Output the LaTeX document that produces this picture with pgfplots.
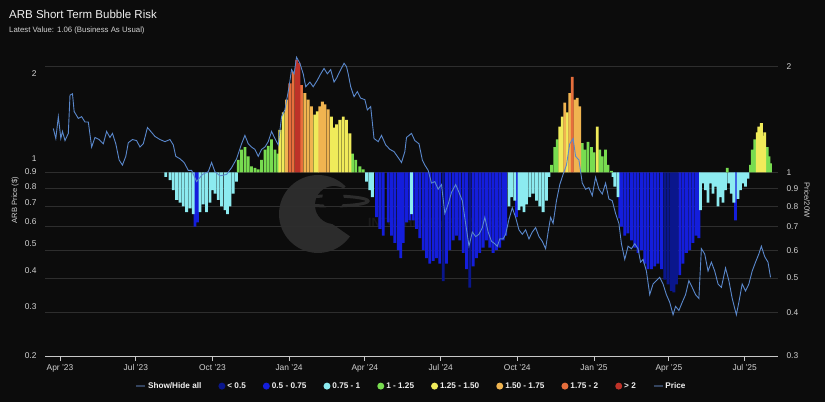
\documentclass[border=0pt]{standalone}
\usepackage{fontspec}
\setmainfont{Liberation Sans}
\usepackage{pgfplots}
\pgfplotsset{compat=1.18}
\usepackage{pgfplotstable}

\definecolor{bgc}{HTML}{0C0C0C}
\definecolor{gridc}{HTML}{2E2E2E}
\definecolor{axisc}{HTML}{C8C8C8}
\definecolor{labc}{HTML}{D2D2D2}
\definecolor{titlec}{HTML}{F0F0F0}
\definecolor{wmc}{HTML}{2C2C2C}
\definecolor{pricec}{HTML}{5A88CC}
\definecolor{legline}{HTML}{34445F}
\definecolor{cA}{HTML}{0A168C}
\definecolor{cB}{HTML}{141EDC}
\definecolor{cC}{HTML}{8CEBF0}
\definecolor{cD}{HTML}{78DC50}
\definecolor{cE}{HTML}{F0EB5A}
\definecolor{cF}{HTML}{F0B450}
\definecolor{cG}{HTML}{E66E3C}
\definecolor{cH}{HTML}{BE3228}

% Price/20W bars, x = days since 1 Apr 2023
\pgfplotstableread{
d v
127 0.97
132 0.95
136 0.89
140 0.835
144 0.82
148 0.80
152 0.77
156 0.79
160 0.76
162 0.70
165 0.72
168 0.77
172 0.81
176 0.77
180 0.82
183 0.89
186 0.87
190 0.835
194 0.80
198 0.78
201 0.76
204 0.80
208 0.87
212 0.94
214 1.085
218 1.16
222 1.18
226 1.11
230 1.04
234 1.03
238 1.02
242 1.085
246 1.16
250 1.19
254 1.24
258 1.16
262 1.13
264 1.32
268 1.48
272 1.61
276 1.79
280 1.93
284 2.09
287 2.05
290 1.77
294 1.68
298 1.61
302 1.54
306 1.46
309 1.49
312 1.54
315 1.59
318 1.56
322 1.51
326 1.44
329 1.34
332 1.37
336 1.41
340 1.44
344 1.41
348 1.29
351 1.13
355 1.085
360 1.04
364 1.02
368 0.94
372 0.89
375 0.85
380 0.745
384 0.69
388 0.66
394 0.72
398 0.66
402 0.63
406 0.60
409 0.57
412 0.63
416 0.72
420 0.73
422 0.76
424 0.73
428 0.69
432 0.65
436 0.60
440 0.57
444 0.55
448 0.56
452 0.57
456 0.55
460 0.49
464 0.55
468 0.60
472 0.64
476 0.66
480 0.64
484 0.59
488 0.53
492 0.47
496 0.54
500 0.57
504 0.59
508 0.61
512 0.64
516 0.61
520 0.59
524 0.60
528 0.61
532 0.64
535 0.66
539 0.80
542 0.85
546 0.83
548 0.745
551 0.78
554 0.80
557 0.77
560 0.81
564 0.85
568 0.87
572 0.83
576 0.80
580 0.77
584 0.83
587 0.97
590 1.05
594 1.18
597 1.24
600 1.35
603 1.44
606 1.58
609 1.48
612 1.68
615 1.87
618 1.61
621 1.63
624 1.54
627 1.21
630 1.16
634 1.22
638 1.18
641 1.14
645 1.35
648 1.16
651 1.11
655 1.16
658 1.05
662 1.01
664 0.97
666 0.91
670 0.85
672 0.74
674 0.70
678 0.66
682 0.67
686 0.64
690 0.61
694 0.59
698 0.60
702 0.55
706 0.53
710 0.53
714 0.54
718 0.55
722 0.53
726 0.495
730 0.48
734 0.46
737 0.455
740 0.48
744 0.51
748 0.55
752 0.59
756 0.60
760 0.63
764 0.66
767 0.65
769 0.78
772 0.93
775 0.89
778 0.82
781 0.93
784 0.87
787 0.91
790 0.80
793 0.85
796 0.82
799 0.89
801 1.03
803 0.93
806 0.87
809 0.82
811 0.73
814 0.84
817 0.89
820 0.93
823 0.91
826 0.96
829 1.05
831 1.16
834 1.24
837 1.30
839 1.35
842 1.38
844 1.27
846 1.30
849 1.18
851 1.11
853 1.06
}\bars

% ARB price in USD
\pgfplotstableread{
d p
-8 1.28
-5 1.18
-2 1.41
1 1.18
3 1.25
6 1.16
10 1.23
12 1.68
15 1.70
17 1.47
22 1.39
26 1.41
30 1.35
34 1.35
38 1.10
42 1.19
47 1.17
52 1.13
56 1.25
60 1.19
63 1.23
67 1.13
71 0.99
75 0.95
79 1.02
82 1.14
87 1.17
92 1.16
96 1.10
100 1.13
105 1.29
108 1.26
114 1.20
120 1.17
126 1.15
132 1.17
136 1.12
139 1.02
144 1.00
149 0.97
154 0.91
158 0.91
164 0.83
171 0.88
178 0.90
182 0.97
186 0.90
192 0.87
200 0.88
206 0.93
212 1.00
218 1.13
222 1.21
226 1.13
230 1.10
234 1.08
238 1.02
242 1.08
246 1.10
250 1.15
254 1.25
258 1.18
262 1.12
266 1.41
270 1.49
275 1.80
278 2.07
281 2.00
284 2.29
288 2.18
292 2.00
295 1.80
300 1.87
304 1.80
309 1.90
313 2.00
317 2.09
321 2.00
325 2.07
329 1.87
332 1.93
336 2.04
341 2.18
344 2.12
346 2.00
349 1.80
353 1.66
357 1.73
361 1.64
366 1.62
369 1.49
373 1.53
377 1.18
382 1.15
386 1.21
391 1.12
396 1.08
401 1.06
406 1.01
410 0.97
414 1.06
416 1.19
422 1.23
426 1.16
431 1.13
435 0.99
438 0.95
442 0.91
446 0.82
450 0.83
454 0.78
458 0.81
462 0.64
466 0.69
470 0.76
475 0.81
479 0.76
483 0.71
487 0.59
491 0.49
495 0.55
499 0.53
503 0.54
507 0.57
510 0.62
514 0.55
518 0.51
522 0.50
525 0.49
528 0.52
532 0.52
535 0.54
539 0.61
543 0.67
547 0.62
551 0.56
555 0.54
559 0.56
563 0.52
567 0.55
571 0.57
575 0.53
579 0.51
583 0.48
586 0.55
589 0.62
592 0.59
596 0.71
600 0.81
604 0.88
608 0.95
612 1.13
616 1.18
619 1.02
623 0.99
627 0.82
631 0.78
635 0.79
639 0.74
643 0.86
647 0.78
651 0.75
655 0.82
659 0.72
663 0.71
667 0.64
671 0.59
674 0.50
678 0.44
682 0.49
686 0.48
690 0.50
694 0.48
697 0.43
700 0.44
704 0.40
708 0.33
712 0.36
716 0.37
720 0.38
724 0.36
728 0.33
732 0.31
736 0.28
739 0.30
743 0.29
747 0.31
751 0.33
755 0.37
759 0.35
763 0.33
767 0.32
770 0.48
774 0.46
778 0.40
782 0.43
786 0.40
790 0.36
794 0.35
799 0.41
803 0.37
807 0.32
812 0.28
815 0.31
819 0.36
823 0.34
827 0.36
831 0.40
835 0.43
839 0.46
842 0.49
846 0.45
850 0.43
853 0.38
}\price

\tikzset{ylab/.style={font=\fontsize{7.6bp}{9bp}\selectfont, text=labc, anchor=center}}
\pgfplotsset{
  base/.style={
    at={(45bp,46bp)}, anchor=south west,
    width=733bp, height=304bp, scale only axis,
    xmin=-18, xmax=862,
    /pgf/number format/assume math mode=true,
    tick label style={font=\fontsize{8.4bp}{10bp}\selectfont, text=labc},
  },
  bar/.style={ybar, bar width=2.8bp, bar shift=0pt, draw=none, fill=#1,
    legend image code/.code={\fill[#1] (3.5bp,0bp) circle (3.5bp);}},
}

\begin{document}
\begin{tikzpicture}[x=1bp,y=1bp]
\useasboundingbox (0,0) rectangle (825,402);
\fill[bgc] (0,0) rectangle (825,402);

\node[anchor=west, text=titlec, font=\fontsize{11.5bp}{13bp}\selectfont, inner sep=0pt] at (9,388) {ARB Short Term Bubble Risk};
\node[anchor=west, text=labc, font=\fontsize{7.8bp}{9bp}\selectfont, inner sep=0pt] at (9,372) {Latest Value: 1.06 (Business As Usual)};

% watermark
\fill[wmc] (318,188) -- ++(45:39) arc (45:325:39) -- cycle;
\fill[bgc] (334,197) circle (19);
\draw[wmc, line width=3bp] (331,201) ellipse (37 and 5);
\fill[bgc] (333,203) circle (11);
\node[text=wmc!45!bgc, font=\bfseries\fontsize{12bp}{14bp}\selectfont, anchor=west, inner sep=0pt] at (368,180) {INTOTHECRYPTOVERSE};

\begin{axis}[base,
  ymode=log, ymin=0.3, ymax=2.2,
  axis x line*=bottom, axis y line*=right,
  x axis line style={-, draw=axisc, line width=0.8bp},
  y axis line style={draw=none},
  xtick={0,91,183,275,366,457,549,641,731,822},
  xticklabels={Apr '23,Jul '23,Oct '23,Jan '24,Apr '24,Jul '24,Oct '24,Jan '25,Apr '25,Jul '25},
  xtick style={draw=axisc, line width=0.8bp},
  tick align=outside, major tick length=5bp,
  ytick={0.3,0.4,0.5,0.6,0.7,0.8,0.9,1,2},
  yticklabels={0.3,0.4,0.5,0.6,0.7,0.8,0.9,1,2},
  ytick style={draw=none}, minor ytick={},
  yticklabel style={xshift=0bp},
  ymajorgrids, grid style={gridc, line width=0.7bp},
  ylabel={Price/20W},
  every axis y label/.style={ylab, at={(axis description cs:1.0396,0.513)}, rotate=-90},
  legend columns=-1,
  legend style={at={(axis description cs:0.5,-0.099)}, anchor=center,
    draw=none, fill=none, text=titlec,
    font=\bfseries\fontsize{8.2bp}{10bp}\selectfont,
    /tikz/every even column/.append style={column sep=15bp}},
]
\addlegendimage{legend image code/.code={\draw[legline, line width=1.5bp] (0bp,0bp) -- (9bp,0bp);}}
\addlegendentry{Show/Hide all}
\addplot[bar=cA, restrict expr to domain={\thisrow{v}}{0:0.4999}] table[x=d, y=v] {\bars};
\addlegendentry{< 0.5}
\addplot[bar=cB, restrict expr to domain={\thisrow{v}}{0.5:0.7499}] table[x=d, y=v] {\bars};
\addlegendentry{0.5 - 0.75}
\addplot[bar=cC, restrict expr to domain={\thisrow{v}}{0.75:0.9999}] table[x=d, y=v] {\bars};
\addlegendentry{0.75 - 1}
\addplot[bar=cD, restrict expr to domain={\thisrow{v}}{1:1.2499}] table[x=d, y=v] {\bars};
\addlegendentry{1 - 1.25}
\addplot[bar=cE, restrict expr to domain={\thisrow{v}}{1.25:1.4999}] table[x=d, y=v] {\bars};
\addlegendentry{1.25 - 1.50}
\addplot[bar=cF, restrict expr to domain={\thisrow{v}}{1.5:1.7499}] table[x=d, y=v] {\bars};
\addlegendentry{1.50 - 1.75}
\addplot[bar=cG, restrict expr to domain={\thisrow{v}}{1.75:1.9999}] table[x=d, y=v] {\bars};
\addlegendentry{1.75 - 2}
\addplot[bar=cH, restrict expr to domain={\thisrow{v}}{2:10}] table[x=d, y=v] {\bars};
\addlegendentry{> 2}
\addlegendimage{legend image code/.code={\draw[legline, line width=1.5bp] (0bp,0bp) -- (9bp,0bp);}}
\addlegendentry{Price}
\end{axis}

\begin{axis}[base,
  ymode=log, ymin=0.2, ymax=2.39,
  axis x line=none, axis y line*=left,
  y axis line style={draw=none},
  ytick={0.2,0.3,0.4,0.5,0.6,0.7,0.8,0.9,1,2},
  yticklabels={0.2,0.3,0.4,0.5,0.6,0.7,0.8,0.9,1,2},
  ytick style={draw=none}, minor ytick={},
  yticklabel style={xshift=-5bp},
  ylabel={ARB Price (\$)},
  every axis y label/.style={ylab, at={(axis description cs:-0.0409,0.513)}, rotate=90},
]
\addplot[pricec, line width=0.9bp] table[x=d, y=p] {\price};
\end{axis}
\end{tikzpicture}
\end{document}
